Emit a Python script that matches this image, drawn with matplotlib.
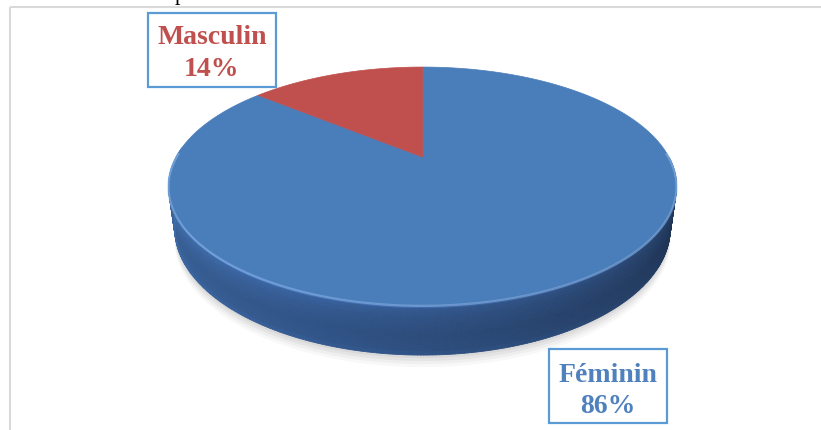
import numpy as np
import matplotlib
matplotlib.use("Agg")
import matplotlib.pyplot as plt
from matplotlib.patches import Polygon, Rectangle
from matplotlib.collections import PolyCollection

# ---- data ----
categories = ["Féminin", "Masculin"]
shares = [86, 14]
top_colors = ["#4a7ebb", "#c0504d"]
label_colors = ["#4f81bd", "#c0504d"]

# ---- 3D pie camera (pixel space) ----
CX, CY = 422.5, 157.0      # projected centre of the top face
RAD = 0.2734               # disk radius relative to camera distance
SIN_E, COS_E = 0.454, 0.891
FOCAL = 901.3
THICK = 0.0532             # disk thickness


def project(theta, z=0.0):
    """Project disk point at angle theta (rad) and height z (<=0 below top)."""
    u, v = np.cos(theta), np.sin(theta)
    X = RAD * u
    Y = RAD * v * SIN_E + z * COS_E
    Z = 1.0 + RAD * v * COS_E - z * SIN_E
    return CX + FOCAL * X / Z, CY - FOCAL * Y / Z


def side_rgb(phi_deg, t):
    keys = np.array([180, 250, 310, 345, 360])
    cols = np.array([[66, 112, 172], [52, 90, 145], [40, 68, 110],
                     [32, 54, 88], [30, 50, 82]], float)
    base = np.array([np.interp(phi_deg, keys, cols[:, k]) for k in range(3)])
    prof_t = [0.0, 0.08, 0.25, 0.6, 0.9, 1.0]
    prof_m = [1.45, 1.08, 1.0, 0.92, 0.95, 1.02]
    m = np.interp(t, prof_t, prof_m)
    return np.clip(base * m / 255.0, 0, 1)


fig = plt.figure(figsize=(8.21, 4.30), dpi=100)
ax = fig.add_axes([0, 0, 1, 1])
ax.set_xlim(0, 821)
ax.set_ylim(430, 0)
ax.axis("off")

# chart area frame
ax.plot([10, 821], [7, 7], color="#d9d9d9", lw=1.5, solid_capstyle="butt")
ax.plot([10, 10], [7, 430], color="#d9d9d9", lw=1.5, solid_capstyle="butt")

# slice angle ranges (clockwise from 12 o'clock)
fracs = np.array(shares, float) / sum(shares)
starts = np.pi / 2 - 2 * np.pi * np.concatenate([[0], np.cumsum(fracs)[:-1]])
ends = starts - 2 * np.pi * fracs

# soft shadow under the disk
tt = np.linspace(0, 2 * np.pi, 400)
bx, by = project(tt, -THICK)
for off, a in [(12, 0.05), (9, 0.07), (6, 0.09), (3, 0.10)]:
    ax.add_patch(Polygon(np.column_stack([bx, by + off]), closed=True,
                         facecolor="#7f7f7f", edgecolor="none", alpha=a))

# side wall of the disk (front half is what shows)
nz = 14
zs = np.linspace(0, -THICK, nz + 1)
polys, cols = [], []
for s, e in zip(starts, ends):
    th = np.linspace(s, e, max(int(abs(e - s) / 0.01), 2))
    for a0, a1 in zip(th[:-1], th[1:]):
        phi = np.degrees(0.5 * (a0 + a1)) % 360
        if phi < 175:
            continue
        for k in range(nz):
            x00, y00 = project(a0, zs[k])
            x01, y01 = project(a1, zs[k])
            x11, y11 = project(a1, zs[k + 1])
            x10, y10 = project(a0, zs[k + 1])
            polys.append([(x00, y00), (x01, y01), (x11, y11), (x10, y10)])
            cols.append(side_rgb(phi, (k + 0.5) / nz))
ax.add_collection(PolyCollection(polys, facecolors=cols, edgecolors=cols,
                                 linewidths=0.6))

# top faces
for s, e, c in zip(starts, ends, top_colors):
    th = np.linspace(s, e, 300)
    px, py = project(th, 0.0)
    pts = np.column_stack([np.r_[CX, px], np.r_[CY, py]])
    ax.add_patch(Polygon(pts, closed=True, facecolor=c, edgecolor=c, lw=0.5))

# bevel highlight along the front rim
th = np.linspace(np.radians(178), np.radians(362), 300)
hx, hy = project(th, 0.0)
ax.plot(hx, hy + 1.0, color="#8fb8e8", lw=1.6, alpha=0.55)

# data labels in boxed callouts
boxes = [(549, 349, 118, 74), (148, 13, 128, 74)]
baselines = [(382, 413), (44, 76)]
for i in range(len(categories)):
    x0, y0, w, h = boxes[i]
    ax.add_patch(Rectangle((x0, y0), w, h, facecolor="white",
                           edgecolor="#5b9bd5", lw=1.6))
    xc = x0 + w / 2
    for txt, yb in zip([categories[i], f"{shares[i]}%"], baselines[i]):
        ax.text(xc, yb, txt, ha="center", va="baseline", fontsize=20,
                fontweight="bold", family="Liberation Serif",
                color=label_colors[i])

# tail of the caption line sitting above the chart
fig.text(180 / 821, 1.0, "p", ha="center", va="baseline", fontsize=16,
         family="Liberation Serif", color="black")

fig.savefig("out.png", dpi=100)
